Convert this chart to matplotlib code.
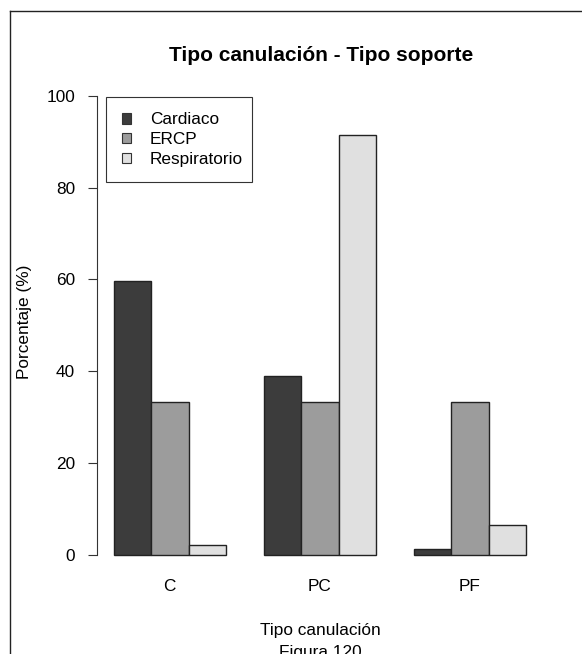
import matplotlib
matplotlib.use("Agg")
import matplotlib.pyplot as plt
from matplotlib.patches import Patch, Rectangle
from matplotlib.lines import Line2D

plt.rcParams["font.family"] = ["Liberation Sans", "DejaVu Sans"]

categories = ["C", "PC", "PF"]
series_names = ["Cardiaco", "ERCP", "Respiratorio"]
cardiaco = [59.74, 38.96, 1.30]
ercp = [33.33, 33.33, 33.33]
respiratorio = [2.13, 91.49, 6.38]
yticks = [0, 20, 40, 60, 80, 100]

colors = ["#3c3c3c", "#9c9c9c", "#e0e0e0"]
W, H = 582, 654
fs = 12.4

fig = plt.figure(figsize=(W / 100, H / 100), dpi=100)
fig.patch.set_facecolor("white")

# plot region (pixel bounds converted to figure fractions)
left_px, right_px, top_px, bot_px = 97, 542.5, 77.6, 573
ax = fig.add_axes([left_px / W, 1 - bot_px / H,
                   (right_px - left_px) / W, (bot_px - top_px) / H])

series = [cardiaco, ercp, respiratorio]
for k, (vals, col, name) in enumerate(zip(series, colors, series_names)):
    xs = [1 + 4 * g + k for g in range(len(categories))]
    ax.bar(xs, vals, width=1.0, align="edge", color=col,
           edgecolor="#222222", linewidth=1.0, label=name)

ax.set_xlim(0.56, 12.44)
ax.set_ylim(-4, 104)

for s in ["top", "right", "bottom"]:
    ax.spines[s].set_visible(False)
ax.spines["left"].set_bounds(0, 100)
ax.spines["left"].set_linewidth(0.8)
ax.spines["left"].set_color("#333333")

ax.set_yticks(yticks)
ax.set_yticklabels([str(t) for t in yticks], fontsize=fs)
ax.tick_params(axis="y", direction="out", length=6.8, width=0.8,
               color="#333333", pad=9)

centers = [2.5 + 4 * g for g in range(len(categories))]
ax.set_xticks(centers)
ax.set_xticklabels(categories, fontsize=fs)
ax.tick_params(axis="x", length=0, pad=4)

# legend entries, with a separately drawn box around them
handles = [Patch(facecolor=c, edgecolor="#333333", linewidth=0.8) for c in colors]
fig.legend(handles, series_names, loc="upper left",
           bbox_to_anchor=(106 / W, 1 - 97 / H), borderaxespad=0,
           fontsize=fs, frameon=False, handlelength=0.55, handleheight=0.55,
           handletextpad=1.1, labelspacing=0.27, borderpad=0.9)
fig.add_artist(Rectangle((106 / W, 1 - 182 / H), (252 - 106) / W, (182 - 97) / H,
                         transform=fig.transFigure, facecolor="none",
                         edgecolor="#333333", linewidth=0.8))

fig.text(321 / W, 1 - 60.7 / H, "Tipo canulación - Tipo soporte",
         ha="center", va="baseline", fontsize=15, fontweight="bold")
fig.text(25 / W, 1 - 322 / H, "Porcentaje (%)", rotation=90,
         ha="center", va="center", fontsize=fs)
fig.text(320 / W, 1 - 635 / H, "Tipo canulación", ha="center",
         va="baseline", fontsize=fs)
fig.text(320 / W, 1 - 657 / H, "Figura 120", ha="center",
         va="baseline", fontsize=fs)

# outer frame around the figure
fig.add_artist(Line2D([10 / W, 1.01], [1 - 11 / H, 1 - 11 / H],
                      transform=fig.transFigure, color="#222222", lw=1.0))
fig.add_artist(Line2D([10 / W, 10 / W], [1 - 11 / H, -0.01],
                      transform=fig.transFigure, color="#222222", lw=1.0))

fig.savefig("out.png", dpi=100)
